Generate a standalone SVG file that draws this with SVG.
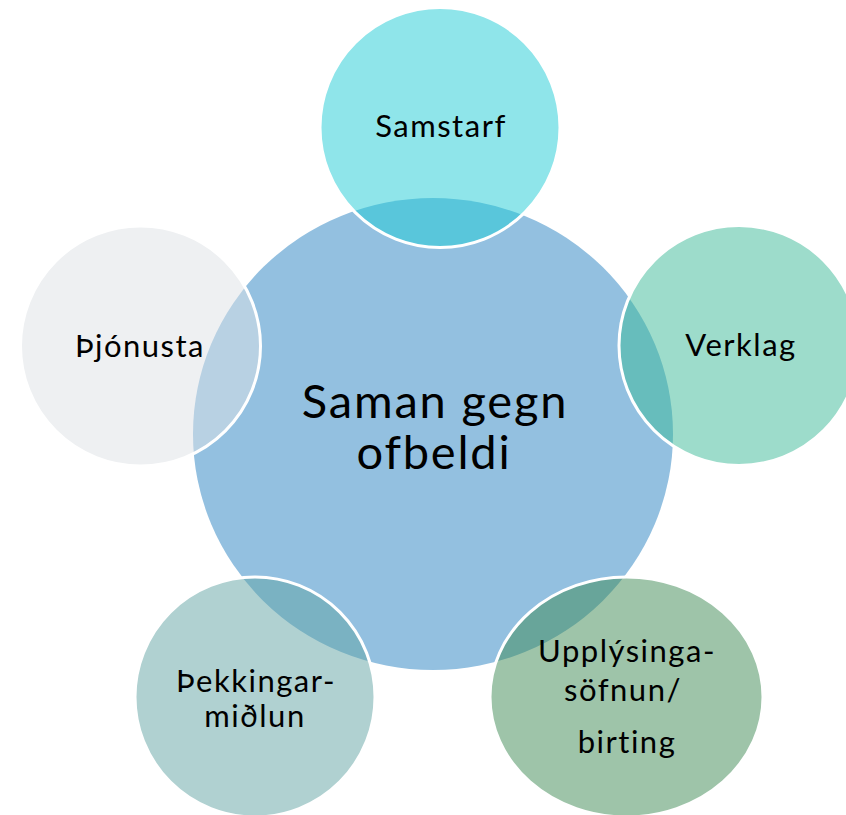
<svg xmlns="http://www.w3.org/2000/svg" width="846" height="815" viewBox="0 0 846 815">
<style>
.node{stroke:#ffffff;stroke-width:3}
.sat{fill-opacity:0.5}
text{font-family:"Lato","Noto Sans","Liberation Sans",sans-serif;fill:#000000;text-anchor:middle}
.lbl{font-size:31px;letter-spacing:1.5px}
.big{font-size:47px;letter-spacing:1.8px}
</style>
<rect width="846" height="815" fill="#ffffff"/>
<g id="center">
<ellipse cx="433" cy="434" rx="240" ry="236" fill="#93C0E0"/>
<text class="big" x="435" y="418">Saman gegn</text>
<text class="big" x="434" y="469">ofbeldi</text>
</g>
<g id="samstarf">
<circle class="node sat" cx="440" cy="127.5" r="120" fill="#1FCBD5"/>
<text class="lbl" x="441" y="137">Samstarf</text>
</g>
<g id="verklag">
<circle class="node sat" cx="739" cy="345.5" r="120" fill="#3BB997"/>
<text class="lbl" x="741" y="356">Verklag</text>
</g>
<g id="thjonusta">
<circle class="node sat" cx="140.5" cy="346" r="120" fill="#DEE1E5"/>
<text class="lbl" x="140" y="357">Þjónusta</text>
</g>
<g id="thekkingarmidlun">
<circle class="node sat" cx="255" cy="697" r="120" fill="#61A3A3"/>
<text class="lbl" x="256" y="692">Þekkingar-</text>
<text class="lbl" x="255" y="727">miðlun</text>
</g>
<g id="upplysingasofnun">
<ellipse class="node sat" cx="626.5" cy="697" rx="136.5" ry="120" fill="#3D8953"/>
<text class="lbl" x="627" y="662">Upplýsinga-</text>
<text class="lbl" x="623" y="701">söfnun/</text>
<text class="lbl" x="627" y="753">birting</text>
</g>
</svg>
